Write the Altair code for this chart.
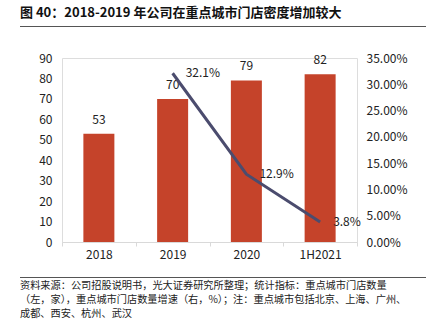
import altair as alt
import pandas as pd

categories = ["2018", "2019", "2020", "1H2021"]
stores = [53, 70, 79, 82]
growth = [None, 0.321, 0.129, 0.038]
growth_labels = ["", "32.1%", "12.9%", "3.8%"]

title = "图 40：2018-2019 年公司在重点城市门店密度增加较大"
footer = [
    "资料来源：公司招股说明书，光大证券研究所整理；统计指标：重点城市门店数量",
    "（左，家），重点城市门店数量增速（右，%）；注：重点城市包括北京、上海、广州、",
    "成都、西安、杭州、武汉",
]

FONT = "Noto Sans CJK SC"
W, H = 295, 184
PL, PT = 62, 58

df = pd.DataFrame({"cat": categories, "stores": stores, "growth": growth, "glabel": growth_labels})
dfl = df.dropna(subset=["growth"])

x = alt.X("cat:N", sort=categories, title=None,
          scale=alt.Scale(paddingInner=0, paddingOuter=0),
          axis=alt.Axis(labelAngle=0, domainColor="#d9d9d9", tickColor="#d9d9d9",
                        tickBand="extent", tickSize=4, labelPadding=3,
                        labelFontSize=12, labelColor="#222222", labelFont=FONT))

y_left = alt.Y("stores:Q", title=None,
               scale=alt.Scale(domain=[0, 90]),
               axis=alt.Axis(values=list(range(0, 91, 10)), grid=False, domain=False,
                             ticks=False, labelPadding=10, labelFontSize=12,
                             labelOverlap=False,
                             labelColor="#222222", labelFont=FONT))

bars = alt.Chart(df).mark_bar(size=31, color="#C5432A").encode(x=x, y=y_left)
bar_text = alt.Chart(df).mark_text(dy=-14, fontSize=12, color="#222222", font=FONT).encode(
    x=x, y=y_left, text=alt.Text("stores:Q"))

left = alt.layer(bars, bar_text)

y_right = alt.Y("growth:Q", title=None,
                scale=alt.Scale(domain=[0, 0.35]),
                axis=alt.Axis(orient="right", values=[0, 0.05, 0.1, 0.15, 0.2, 0.25, 0.3, 0.35],
                              format=".2%", grid=False, domain=False, ticks=False,
                              labelOverlap=False, labelFlush=False,
                              labelPadding=9, labelFontSize=12, labelColor="#222222",
                              labelFont=FONT))

line = alt.Chart(dfl).mark_line(color="#4B4C6E", strokeWidth=3).encode(
    x=alt.X("cat:N", sort=categories), y=y_right)
line_text = alt.Chart(dfl).mark_text(dx=13, align="left", baseline="middle", fontSize=12,
                                     color="#222222", font=FONT).encode(
    x=alt.X("cat:N", sort=categories), y=y_right, text="glabel:N")

right = alt.layer(line, line_text)

# decorations
deco_df = pd.DataFrame({"k": [0]})
title_mark = alt.Chart(deco_df).mark_text(align="left", baseline="middle", fontSize=13,
                                          fontWeight="bold", font=FONT, color="#111111").encode(
    x=alt.value(20 - PL), y=alt.value(13 - PT), text=alt.value(title))
title_rule = alt.Chart(deco_df).mark_rule(color="#555555", strokeWidth=1).encode(
    x=alt.value(20 - PL), x2=alt.value(426 - PL), y=alt.value(26.5 - PT))
foot_rule = alt.Chart(deco_df).mark_rule(color="#555555", strokeWidth=1).encode(
    x=alt.value(20 - PL), x2=alt.value(426 - PL), y=alt.value(277.5 - PT))
foot_marks = [
    alt.Chart(deco_df).mark_text(align="left", baseline="middle", fontSize=10.2, font=FONT,
                                 color="#222222").encode(
        x=alt.value(20 - PL), y=alt.value(yy - PT), text=alt.value(t))
    for t, yy in zip(footer, [286, 300, 314])
]

chart = alt.layer(left, right, title_mark, title_rule, foot_rule, *foot_marks).resolve_scale(
    y="independent").properties(
    width=W, height=H,
    padding={"left": PL, "top": PT, "right": 426 - PL - W, "bottom": 323 - PT - H},
    autosize=alt.AutoSizeParams(type="none"),
).configure_view(stroke=None).configure(background="white")

chart.save("out.html", embed_options={"renderer": "svg", "actions": False})
